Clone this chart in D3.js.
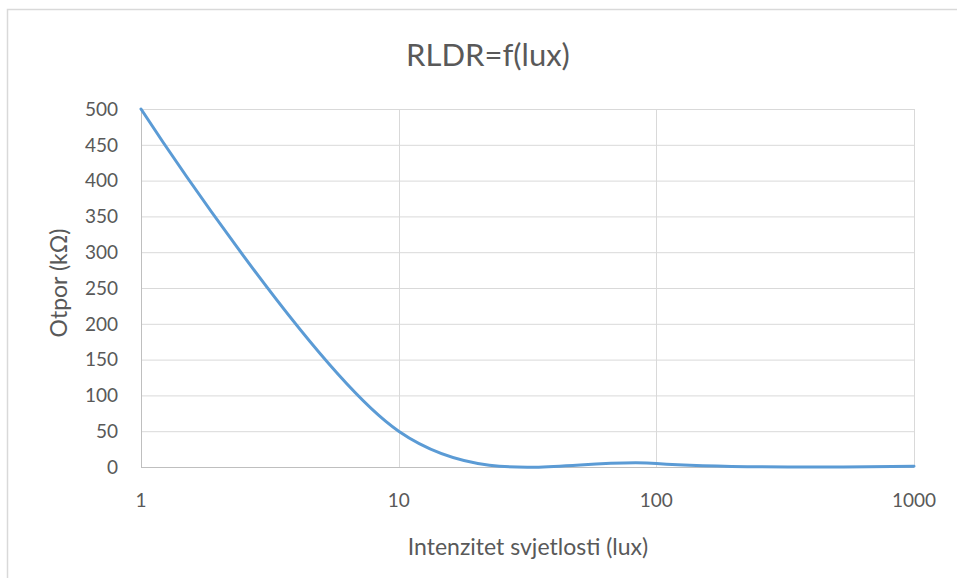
<!DOCTYPE html>
<html lang="hr">
<head>
<meta charset="UTF-8">
<title>RLDR=f(lux)</title>
<script src="https://d3js.org/d3.v7.min.js"></script>
<style>
  body { margin: 0; background: #fff; }
  text { font-family: Lato, "Open Sans", sans-serif; fill: #595959; }
</style>
</head>
<body>
<div id="chart"></div>
<script>
// data
const lux = [1, 10, 100, 1000];
const otpor = [500, 50, 5, 1];
const xTicks = [1, 10, 100, 1000];
const yTicks = [0, 50, 100, 150, 200, 250, 300, 350, 400, 450, 500];

const width = 957, height = 578;
const margin = { left: 141, right: 43, top: 109, bottom: 111 };

const svg = d3.select("#chart").append("svg")
    .attr("width", width)
    .attr("height", height);

// chart area border
svg.append("rect")
    .attr("x", 7.5).attr("y", 9.5)
    .attr("width", width + 10).attr("height", height + 10)
    .attr("fill", "none")
    .attr("stroke", "#d9d9d9")
    .attr("stroke-width", 1.5);

const x = d3.scaleLog()
    .domain([1, 1000])
    .range([margin.left, width - margin.right]);

const y = d3.scaleLinear()
    .domain([0, 500])
    .range([height - margin.bottom, margin.top]);

// gridlines
svg.append("g")
    .selectAll("line")
    .data(yTicks.filter(d => d > 0))
    .enter().append("line")
    .attr("x1", x(1)).attr("x2", x(1000))
    .attr("y1", d => y(d) + 0.5).attr("y2", d => y(d) + 0.5)
    .attr("stroke", "#d9d9d9");

svg.append("g")
    .selectAll("line")
    .data(xTicks.filter(d => d > 1))
    .enter().append("line")
    .attr("x1", d => Math.round(x(d)) + 0.5).attr("x2", d => Math.round(x(d)) + 0.5)
    .attr("y1", y(0)).attr("y2", y(500))
    .attr("stroke", "#d9d9d9");

// axis lines
svg.append("line")
    .attr("x1", x(1) + 0.5).attr("x2", x(1) + 0.5)
    .attr("y1", y(0)).attr("y2", y(500))
    .attr("stroke", "#bfbfbf");
svg.append("line")
    .attr("x1", x(1)).attr("x2", x(1000))
    .attr("y1", y(0) + 0.5).attr("y2", y(0) + 0.5)
    .attr("stroke", "#bfbfbf");

// tick labels
svg.append("g")
    .selectAll("text")
    .data(yTicks)
    .enter().append("text")
    .attr("x", 118)
    .attr("y", d => y(d))
    .attr("dy", "0.36em")
    .attr("text-anchor", "end")
    .style("font-size", "19px")
    .text(d => d);

svg.append("g")
    .selectAll("text")
    .data(xTicks)
    .enter().append("text")
    .attr("x", d => x(d))
    .attr("y", 507)
    .attr("text-anchor", "middle")
    .style("font-size", "19px")
    .text(d => d);

// curve (smoothed like a spreadsheet scatter)
const line = d3.line()
    .x((d, i) => x(lux[i]))
    .y(d => y(d))
    .curve(d3.curveCardinal.tension(0));

svg.append("path")
    .datum(otpor)
    .attr("d", line)
    .attr("fill", "none")
    .attr("stroke", "#5b9bd5")
    .attr("stroke-width", 3)
    .attr("stroke-linecap", "round");

// titles
svg.append("text")
    .attr("x", 488)
    .attr("y", 66)
    .attr("text-anchor", "middle")
    .style("font-size", "31px")
    .text("RLDR=f(lux)");

svg.append("text")
    .attr("x", 528)
    .attr("y", 555)
    .attr("text-anchor", "middle")
    .style("font-size", "23px")
    .text("Intenzitet svjetlosti (lux)");

svg.append("text")
    .attr("transform", "translate(67,283) rotate(-90)")
    .attr("text-anchor", "middle")
    .style("font-size", "23px")
    .text("Otpor (kΩ)");
</script>
</body>
</html>
